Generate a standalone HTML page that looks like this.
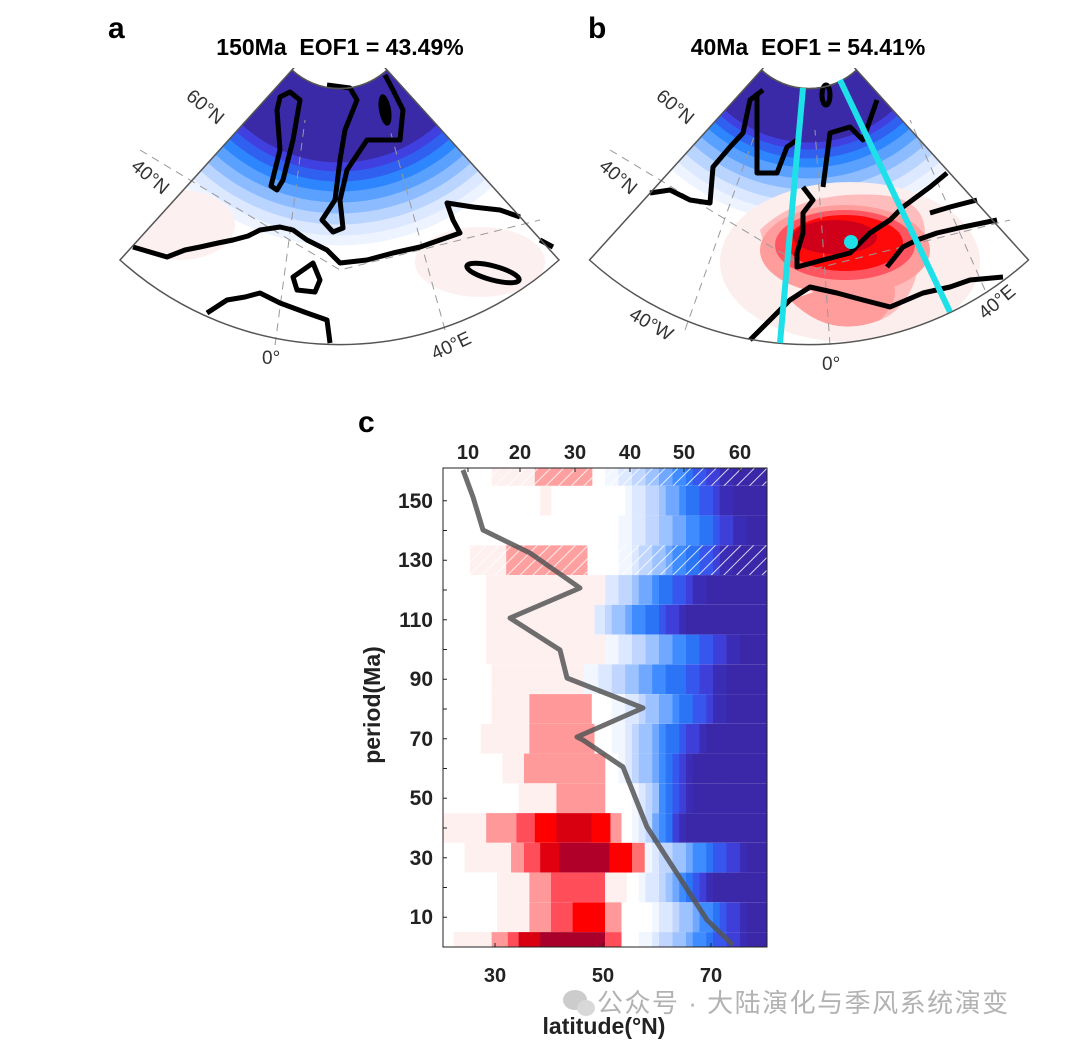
<!DOCTYPE html>
<html><head><meta charset="utf-8"><style>
html,body{margin:0;padding:0;background:#fff;width:1080px;height:1048px;overflow:hidden}
svg text{font-family:"Liberation Sans","Noto Sans CJK SC",sans-serif;white-space:pre}
</style></head><body>
<svg id="s" width="1080" height="1048" viewBox="0 0 1080 1048" xmlns="http://www.w3.org/2000/svg">
<defs>
<clipPath id="fa"><path d="M339.5,17.5 L120,260 A327,327 0 0 0 559,260 Z M339.5,17.5 L292,70 A70,70 0 0 0 387,70 Z" clip-rule="evenodd"/></clipPath>
<clipPath id="fb"><path d="M809,17.5 L589.5,260 A327,327 0 0 0 1028.5,260 Z M809,17.5 L761.5,70 A70,70 0 0 0 856.5,70 Z" clip-rule="evenodd"/></clipPath>
<clipPath id="pc"><rect x="443" y="468" width="324" height="479"/></clipPath>
<pattern id="h" width="9" height="9" patternUnits="userSpaceOnUse" patternTransform="rotate(45)"><line x1="0" y1="0" x2="0" y2="9" stroke="#fff" stroke-width="2" opacity="0.8"/></pattern>
</defs>
<text x="108" y="38" font-size="30" font-weight="bold">a</text>
<text x="588" y="38" font-size="30" font-weight="bold">b</text>
<text x="358" y="432" font-size="30" font-weight="bold">c</text>
<g id="ma" clip-path="url(#fa)"><rect x="100" y="0" width="500" height="360" fill="#fff"/>
<g transform="translate(339.5,17.5)">
<circle r="228" fill="#eef4ff"/><circle r="218" fill="#dce8ff"/><circle r="207" fill="#b8d4ff"/><circle r="196" fill="#8cbcff"/><circle r="185" fill="#5aa0ff"/><circle r="174" fill="#2e86ff"/><circle r="164" fill="#3060f0"/><circle r="154" fill="#4040e0"/><circle r="145" fill="#3a2aa8"/>
</g>
<ellipse cx="180" cy="225" rx="55" ry="35" fill="#fdf0f0"/><ellipse cx="480" cy="262" rx="65" ry="35" fill="#fdf0f0"/></g>
<g id="mb" clip-path="url(#fb)"><rect x="570" y="0" width="500" height="360" fill="#fff"/>
<g transform="translate(809,17.5) rotate(-4)">
<circle r="205" fill="#eef4ff"/><circle r="195" fill="#dce8ff"/><circle r="184" fill="#b8d4ff"/><circle r="172" fill="#8cbcff"/><circle r="161" fill="#5aa0ff"/><circle r="150" fill="#2e86ff"/><circle r="141" fill="#3060f0"/><circle r="132" fill="#4040e0"/><circle r="125" fill="#3a2aa8"/>
</g>
<ellipse cx="850" cy="262" rx="130" ry="80" fill="#fdeeee"/>
<path d="M760,230 Q800,190 880,195 Q940,200 920,260 Q910,320 860,325 Q820,320 810,280 Q770,270 760,230Z" fill="#ffbcbc"/>
<ellipse cx="845" cy="250" rx="85" ry="45" fill="#ff9c9c"/>
<path d="M790,300 Q830,340 880,320 Q910,290 880,270 Z" fill="#ff9c9c"/>
<ellipse cx="845" cy="245" rx="70" ry="35" fill="#ff5560"/>
<ellipse cx="845" cy="243" rx="58" ry="28" fill="#ff0a0a"/>
<ellipse cx="835" cy="237" rx="42" ry="17" fill="#d0001a"/>
</g>
<g fill="none" stroke="#999" stroke-width="1" stroke-dasharray="8,6">
<path d="M140,150 L340,270 L540,220"/><path d="M275,345 L305,120"/><path d="M445,330 L390,130"/>
<path d="M610,150 L810,270 L1010,220"/><path d="M685,330 L760,120"/><path d="M830,345 L815,130"/><path d="M985,290 L910,120"/>
</g>
<g fill="none" stroke="#000" stroke-width="5" stroke-linejoin="round">
<polyline points="133,247 150,252 167,257 185,250 200,247 218,243 233,240 248,236 260,230 280,227 293,230 307,240 327,250 340,263 367,260 393,253 420,247 440,240 460,233 453,220 447,203 473,207 500,210 520,217"/>
<polyline points="207,313 227,300 245,297 260,293 280,303 307,313 327,320 330,343"/>
<polygon points="293,277 313,263 320,280 315,292 297,290"/>
<ellipse cx="493" cy="273" rx="27" ry="7" transform="rotate(15 493 273)"/>
<polyline points="540,240 553,247"/>
<polygon points="280,97 290,92 300,100 293,140 283,180 277,190 271,186 280,150 277,110"/>
<polyline points="327,85 350,88 357,100 345,130 340,160 335,200 322,220 333,232 343,228 340,200 347,170 367,140 400,140 403,110 393,90 385,75"/>
<polyline points="650,193 670,190 690,200 710,203 713,167 730,147 743,133 750,100 763,90"/>
<polyline points="757,95 757,127 757,173 777,173 787,147 797,140"/>
<polyline points="823,187 830,133 850,127 863,140 877,100"/>
<polyline points="803,187 813,200 803,213 803,233 797,253 797,267 823,260 850,253 870,233 890,220 903,207 930,187 947,173"/>
<polyline points="887,267 903,247 917,240 937,233 963,227 997,220"/>
<polyline points="930,213 950,207 977,200"/>
<polyline points="750,340 770,320 790,300 810,287 837,293 863,300 890,307 923,293 950,287 970,280 1003,277"/>
<ellipse cx="826" cy="95" rx="4" ry="10"/>
</g>
<ellipse cx="385" cy="110" rx="6" ry="16" fill="#000" transform="rotate(-10 385 110)"/>
<g fill="none" stroke="#555" stroke-width="1.5">
<path d="M339.5,17.5 L120,260 A327,327 0 0 0 559,260 Z M292,70 A70,70 0 0 0 387,70"/>
<path d="M809,17.5 L589.5,260 A327,327 0 0 0 1028.5,260 Z M761.5,70 A70,70 0 0 0 856.5,70"/>
</g>
<rect x="250" y="0" width="180" height="68" fill="#fff"/><rect x="720" y="0" width="180" height="68" fill="#fff"/>
<text x="340" y="55" font-size="23" font-weight="bold" text-anchor="middle">150Ma  EOF1 = 43.49%</text>
<text x="808" y="55" font-size="23" font-weight="bold" text-anchor="middle">40Ma  EOF1 = 54.41%</text>
<path d="M292,70 A70,70 0 0 0 387,70 M761.5,70 A70,70 0 0 0 856.5,70" fill="none" stroke="#555" stroke-width="1.5"/>
<line x1="803" y1="88" x2="780" y2="343" stroke="#1ee0e8" stroke-width="6"/>
<line x1="840" y1="80" x2="950" y2="312" stroke="#1ee0e8" stroke-width="6"/>
<circle cx="851" cy="242" r="7" fill="#1ee0e8"/>
<g font-size="19" fill="#333">
<text transform="translate(185,98) rotate(40)">60°N</text>
<text transform="translate(130,168) rotate(40)">40°N</text>
<text x="262" y="364">0°</text>
<text transform="translate(435,360) rotate(-25)">40°E</text>
<text transform="translate(655,98) rotate(40)">60°N</text>
<text transform="translate(598,168) rotate(40)">40°N</text>
<text transform="translate(628,318) rotate(30)">40°W</text>
<text x="822" y="370">0°</text>
<text transform="translate(985,320) rotate(-40)">40°E</text>
</g>
<g id="hm" clip-path="url(#pc)"></g>
<polyline clip-path="url(#pc)" points="463,470 473,497 483,530 530,553 550,567 580,588 510,618 560,650 567,678 643,708 577,737 583,740 623,767 647,827 707,920 733,945" fill="none" stroke="#555" stroke-opacity="0.85" stroke-width="5" stroke-linejoin="round"/>
<rect x="443" y="468" width="324" height="479" fill="none" stroke="#222" stroke-width="1"/>
<g id="tk" stroke="#222" stroke-width="1"></g>
<g font-size="20" font-weight="bold" fill="#222" text-anchor="middle">
<text x="468" y="459">10</text><text x="520" y="459">20</text><text x="575" y="459">30</text><text x="630" y="459">40</text><text x="684" y="459">50</text><text x="740" y="459">60</text>
<text x="495" y="982">30</text><text x="603" y="982">50</text><text x="711" y="982">70</text>
</g>
<g font-size="21" font-weight="bold" fill="#222" text-anchor="end">
<text x="433" y="508">150</text><text x="433" y="567">130</text><text x="433" y="627">110</text><text x="433" y="686">90</text><text x="433" y="746">70</text><text x="433" y="805">50</text><text x="433" y="865">30</text><text x="433" y="924">10</text>
</g>
<text transform="translate(380,705) rotate(-90)" font-size="23" font-weight="bold" fill="#222" text-anchor="middle">period(Ma)</text>
<text x="604" y="1034" font-size="23" font-weight="bold" fill="#222" text-anchor="middle">latitude(°N)</text>
<g opacity="0.75">
<ellipse cx="575" cy="1000" rx="12" ry="10" fill="#bbb"/><ellipse cx="586" cy="1008" rx="9" ry="8" fill="#ccc"/>
<text x="597" y="1012" font-size="26" letter-spacing="1.5" fill="#999">公众号 · 大陆演化与季风系统演变</text>
</g>
</svg>
<script>
var NS="http://www.w3.org/2000/svg",hm=document.getElementById("hm");
function R(x,y,w,h,f){var r=document.createElementNS(NS,"rect");r.setAttribute("x",x);r.setAttribute("y",y);r.setAttribute("width",w);r.setAttribute("height",h);r.setAttribute("fill",f);hm.appendChild(r);return r;}
function lx(l){return 443+(l-20)*5.4;}
var blue=["#f2f6ff","#dce8ff","#c0d6ff","#9cc2ff","#70a8ff","#3e8cff","#2a74f5","#3656ee","#3e3ed8","#3a2cb4","#3a28a8"];
var rows={160:[50,73,[[29,37,"#fff0f0"],[37,47.6,"#ffa0a0"]]],150:[53,73,[[38,40,"#fff0f0"]]],140:[52,76,[]],130:[52,73,[[25,31.7,"#fff0f0"],[31.7,46.7,"#ffa0a0"]]],
120:[48,68,[[28,50,"#fff0f0"]]],110:[45,65,[[28,48,"#fff0f0"]]],100:[49,75,[[28,50,"#fff0f0"]]],90:[45,72,[[29,46,"#fff0f0"]]],
80:[51,72,[[29,36,"#fff0f0"],[36,47.5,"#ff9999"]]],70:[51,68,[[27,36,"#fff0f0"],[36,48,"#ff9999"]]],60:[52,66,[[31,35,"#fff0f0"],[35,50,"#ff9a9a"]]],
50:[54,66,[[34,41,"#fff0f0"],[41,50,"#ff9999"]]],
40:[55,64,[[20,28,"#fff0f0"],[28,33.6,"#ff9999"],[33.6,37,"#ff4d5a"],[37,41,"#ff0000"],[41,47.5,"#d80010"],[47.5,51,"#ff0000"],[51,53,"#ff9999"]]],
30:[56,76,[[24,32.6,"#fff0f0"],[32.6,35,"#ff9999"],[35,38,"#ff4d5a"],[38,41.5,"#e00010"],[41.5,50.8,"#b0002a"],[50.8,55,"#ff0000"],[55,57.3,"#ff7070"]]],
20:[56,70,[[30,36,"#fff0f0"],[36,40,"#ff9999"],[40,50,"#ff4d5a"],[50,54,"#fff0f0"]]],
10:[58,76,[[30,36,"#fff0f0"],[36,40,"#ff9999"],[40,44,"#ff4d5a"],[44,50,"#ff0000"],[50,53,"#ff9999"]]],
0:[56,76,[[22,29,"#fff0f0"],[29,32,"#ff9999"],[32,34,"#ff4d5a"],[34,38,"#d80010"],[38,50,"#a8002a"],[50,53,"#ff4d5a"]]]};
for(var m=160;m>=0;m-=10){var p=rows[m];var yc=471+(160-m)*2.975,y=yc-14.9;
 R(443,y,324,29.8,"#fff");
 for(var l=20;l<80;l+=1.25){var t=(l-p[0])/(p[1]-p[0]);if(t<0)continue;var i=Math.min(blue.length-1,Math.floor(t*(blue.length-1)));R(lx(l),y,7.2,29.8,blue[i]);}
 p[2].forEach(function(b){R(lx(b[0]),y,(b[1]-b[0])*5.4+0.3,29.8,b[2]);});
 if(m==160||m==130){R(443,y,324,29.8,"url(#h)");}
}
var tk=document.getElementById("tk");
function L(a,b,c,d){var e=document.createElementNS(NS,"line");e.setAttribute("x1",a);e.setAttribute("y1",b);e.setAttribute("x2",c);e.setAttribute("y2",d);tk.appendChild(e);}
for(var m=150;m>=0;m-=10){var y=471+(160-m)*2.975;L(443,y,447,y);}
[468,520,575,630,684,740].forEach(function(x){L(x,468,x,472);});
[495,603,711].forEach(function(x){L(x,947,x,943);});
</script>
</body></html>
